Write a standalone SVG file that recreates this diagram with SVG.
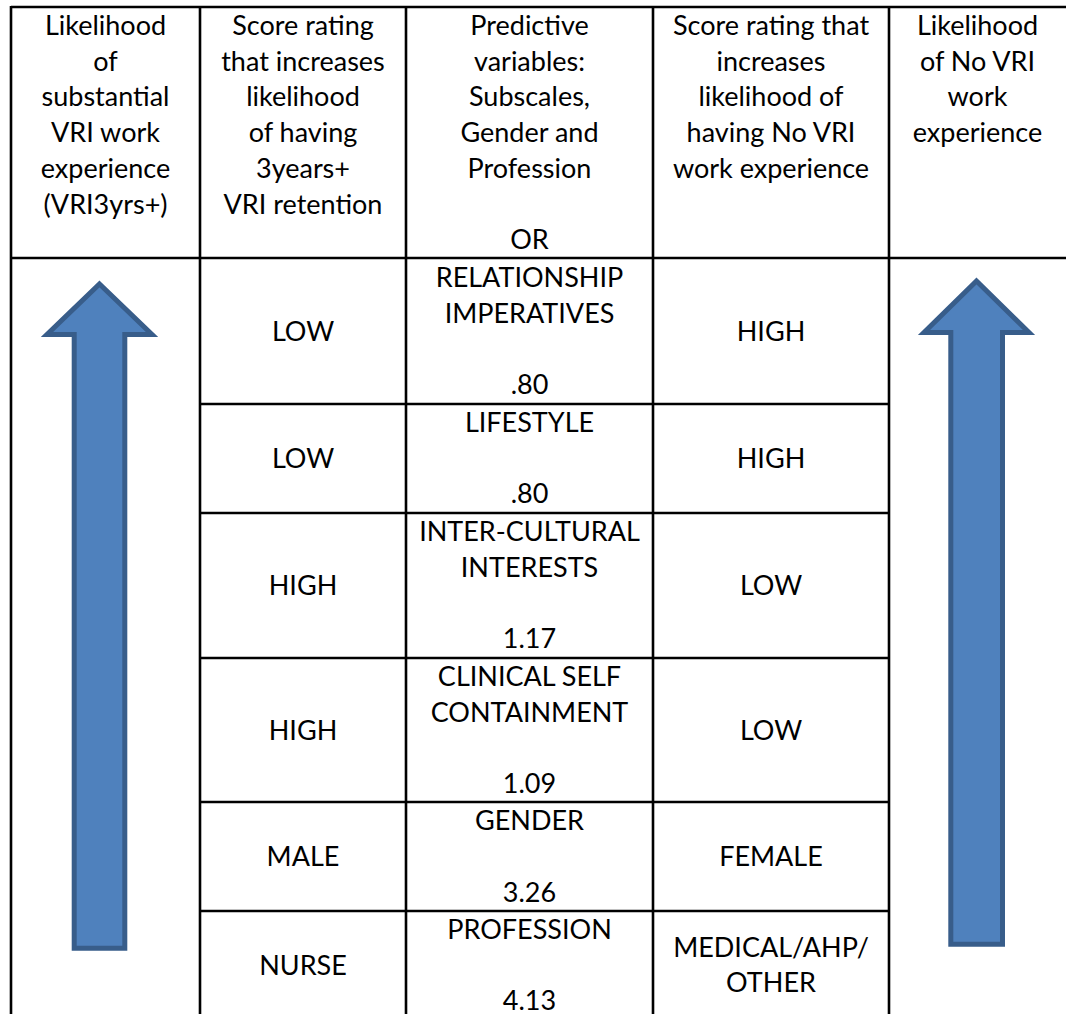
<svg xmlns="http://www.w3.org/2000/svg" width="1066" height="1014" viewBox="0 0 1066 1014">
  <style>
    text { font-family: Lato, "Noto Sans", "Liberation Sans", sans-serif; font-size: 27px; fill: #000; text-anchor: middle; }
    .rule { stroke: #000; stroke-width: 2.6; fill: none; }
    .arrow { fill: #4F81BD; stroke: #385D8A; stroke-width: 5; stroke-linejoin: miter; stroke-miterlimit: 10; }
  </style>
  <rect width="1066" height="1014" fill="#fff"/>

  <!-- table grid -->
  <g id="grid">
    <line class="rule" x1="11" y1="7" x2="1066" y2="7"/>
    <line class="rule" x1="11" y1="258" x2="1066" y2="258"/>
    <line class="rule" x1="200" y1="404" x2="889" y2="404"/>
    <line class="rule" x1="200" y1="513" x2="889" y2="513"/>
    <line class="rule" x1="200" y1="658" x2="889" y2="658"/>
    <line class="rule" x1="200" y1="802" x2="889" y2="802"/>
    <line class="rule" x1="200" y1="911" x2="889" y2="911"/>
    <line class="rule" x1="11" y1="6" x2="11" y2="1014"/>
    <line class="rule" x1="200" y1="6" x2="200" y2="1014"/>
    <line class="rule" x1="406" y1="6" x2="406" y2="1014"/>
    <line class="rule" x1="653" y1="6" x2="653" y2="1014"/>
    <line class="rule" x1="889" y1="6" x2="889" y2="1014"/>
  </g>

  <!-- header row -->
  <g id="head-likelihood-vri">
    <text x="105.5" y="35">Likelihood</text>
    <text x="105.5" y="70.7">of</text>
    <text x="105.5" y="106.4">substantial</text>
    <text x="105.5" y="142.1">VRI work</text>
    <text x="105.5" y="177.8">experience</text>
    <text x="105.5" y="213.5">(VRI3yrs+)</text>
  </g>
  <g id="head-score-3yrs">
    <text x="303" y="35">Score rating</text>
    <text x="303" y="70.7">that increases</text>
    <text x="303" y="106.4">likelihood</text>
    <text x="303" y="142.1">of having</text>
    <text x="303" y="177.8">3years+</text>
    <text x="303" y="213.5">VRI retention</text>
  </g>
  <g id="head-predictive">
    <text x="529.5" y="35">Predictive</text>
    <text x="529.5" y="70.7">variables:</text>
    <text x="529.5" y="106.4">Subscales,</text>
    <text x="529.5" y="142.1">Gender and</text>
    <text x="529.5" y="177.8">Profession</text>
    <text x="529.5" y="249.2">OR</text>
  </g>
  <g id="head-score-novri">
    <text x="771" y="35">Score rating that</text>
    <text x="771" y="70.7">increases</text>
    <text x="771" y="106.4">likelihood of</text>
    <text x="771" y="142.1">having No VRI</text>
    <text x="771" y="177.8">work experience</text>
  </g>
  <g id="head-likelihood-novri">
    <text x="977.5" y="35">Likelihood</text>
    <text x="977.5" y="70.7">of No VRI</text>
    <text x="977.5" y="106.4">work</text>
    <text x="977.5" y="142.1">experience</text>
  </g>

  <!-- body rows -->
  <g id="row-relationship">
    <text x="303" y="341">LOW</text>
    <text x="529.5" y="287">RELATIONSHIP</text>
    <text x="529.5" y="323">IMPERATIVES</text>
    <text x="529.5" y="394">.80</text>
    <text x="771" y="341">HIGH</text>
  </g>
  <g id="row-lifestyle">
    <text x="303" y="468">LOW</text>
    <text x="529.5" y="432">LIFESTYLE</text>
    <text x="529.5" y="503">.80</text>
    <text x="771" y="468">HIGH</text>
  </g>
  <g id="row-intercultural">
    <text x="303" y="595">HIGH</text>
    <text x="529.5" y="541">INTER-CULTURAL</text>
    <text x="529.5" y="577">INTERESTS</text>
    <text x="529.5" y="648">1.17</text>
    <text x="771" y="595">LOW</text>
  </g>
  <g id="row-clinical">
    <text x="303" y="739.5">HIGH</text>
    <text x="529.5" y="686">CLINICAL SELF</text>
    <text x="529.5" y="722">CONTAINMENT</text>
    <text x="529.5" y="793">1.09</text>
    <text x="771" y="739.5">LOW</text>
  </g>
  <g id="row-gender">
    <text x="303" y="866">MALE</text>
    <text x="529.5" y="830">GENDER</text>
    <text x="529.5" y="902">3.26</text>
    <text x="771" y="866">FEMALE</text>
  </g>
  <g id="row-profession">
    <text x="303" y="975">NURSE</text>
    <text x="529.5" y="939">PROFESSION</text>
    <text x="529.5" y="1010">4.13</text>
    <text x="771" y="957">MEDICAL/AHP/</text>
    <text x="771" y="992">OTHER</text>
  </g>

  <!-- block arrows -->
  <g id="arrow-left">
    <path class="arrow" d="M99.5,284 L152,334.5 L124.8,334.5 L124.8,948.3 L74.2,948.3 L74.2,334.5 L47,334.5 Z"/>
  </g>
  <g id="arrow-right">
    <path class="arrow" d="M976.5,281 L1029,332.5 L1002.5,332.5 L1002.5,944.3 L950.8,944.3 L950.8,332.5 L924,332.5 Z"/>
  </g>
</svg>
